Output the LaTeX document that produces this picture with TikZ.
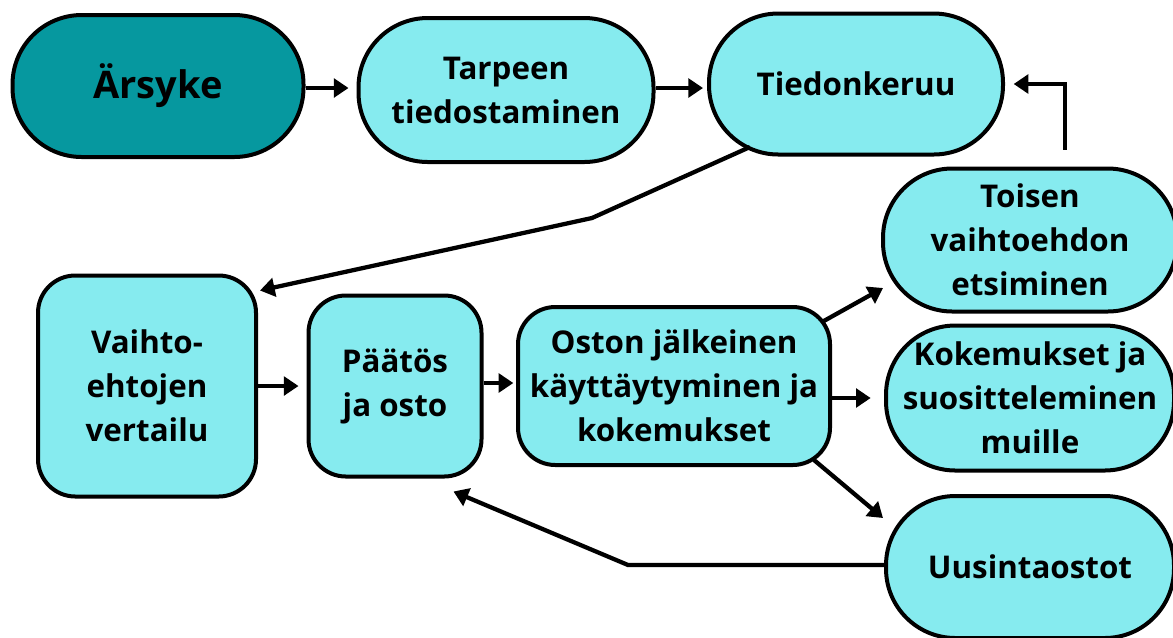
\documentclass[tikz,border=0pt]{standalone}
\usepackage{fontspec}
\setmainfont{Open Sans}
\usetikzlibrary{arrows.meta}
\definecolor{lightc}{HTML}{86EBEF}
\definecolor{darkc}{HTML}{06989F}
\begin{document}
\begin{tikzpicture}[x=0.75pt,y=-0.75pt,
  box/.style={draw=black,line width=3pt,fill=lightc,inner sep=0pt,align=center,
    font=\fontsize{23.5}{33}\selectfont\bfseries},
  pill/.style={box,rounded corners=52pt},
  rbox/.style={box,rounded corners=28pt},
  arr/.style={line width=3.2pt,-{Triangle[length=11pt,width=14pt]}},
  ln/.style={line width=3pt}]
\useasboundingbox (0,0) rectangle (1173,637);
\node[pill,fill=darkc,minimum width=291*0.75pt,minimum height=142*0.75pt,
  font=\fontsize{28.5}{34}\selectfont\bfseries] (ars) at (158,86) {Ärsyke};
\node[pill,minimum width=295*0.75pt,minimum height=144*0.75pt] (tar) at (506,90) {Tarpeen\\tiedostaminen};
\node[pill,minimum width=294*0.75pt,minimum height=141*0.75pt] (tie) at (856,84) {Tiedonkeruu};
\node[pill,minimum width=294*0.75pt,minimum height=143*0.75pt] (toi) at (1030,240) {Toisen\\vaihtoehdon\\etsiminen};
\node[pill,minimum width=288*0.75pt,minimum height=145*0.75pt] (kok) at (1030,398) {Kokemukset ja\\suositteleminen\\muille};
\node[pill,minimum width=288*0.75pt,minimum height=142*0.75pt] (uus) at (1030,567) {Uusintaostot};
\node[rbox,minimum width=218*0.75pt,minimum height=221*0.75pt] (vai) at (147,386) {Vaihto-\\ehtojen\\vertailu};
\node[rbox,minimum width=173*0.75pt,minimum height=181*0.75pt] (paa) at (395,386) {Päätös\\ja osto};
\node[rbox,minimum width=312*0.75pt,minimum height=158*0.75pt] (ost) at (674,386) {Oston jälkeinen\\käyttäytyminen ja\\kokemukset};
% connectors
\draw[arr,shorten >=6pt] (ars.east |- 0,88) -- (tar.west |- 0,88);
\draw[arr,shorten >=3pt] (tar.east |- 0,88) -- (tie.west |- 0,88);
\draw[arr,shorten <=12.5pt,shorten >=6.5pt] ([xshift=26.25pt]toi.north) |- (tie.east);
\coordinate (tieout) at ([shift={(-106,63)}]tie.center);
\coordinate (bend1) at (592,218);
\coordinate (vaiin) at ([shift={(2,17)}]vai.north east);
\draw[arr] (tieout) -- (bend1) -- (vaiin);
\draw[arr,shorten >=6pt] (vai.east) -- (paa.west);
\draw[arr,shorten >=2pt] (paa.east |- 0,383) -- (ost.west |- 0,383);
\coordinate (ostout1) at ([shift={(148,-64)}]ost.center);
\coordinate (toiin) at ([shift={(-147,48)}]toi.center);
\draw[arr] (ostout1) -- (toiin);
\draw[arr,shorten >=10pt] (ost.east |- kok.west) -- (kok.west);
\coordinate (ostout2) at ([shift={(140,74)}]ost.center);
\coordinate (uusin) at ([shift={(-147,-49)}]uus.center);
\draw[arr] (ostout2) -- (uusin);
\coordinate (bend2) at (628,565);
\coordinate (paain) at ([shift={(-30,13)}]paa.south east);
\draw[arr] (uus.west |- bend2) -- (bend2) -- (paain);
\end{tikzpicture}
\end{document}
